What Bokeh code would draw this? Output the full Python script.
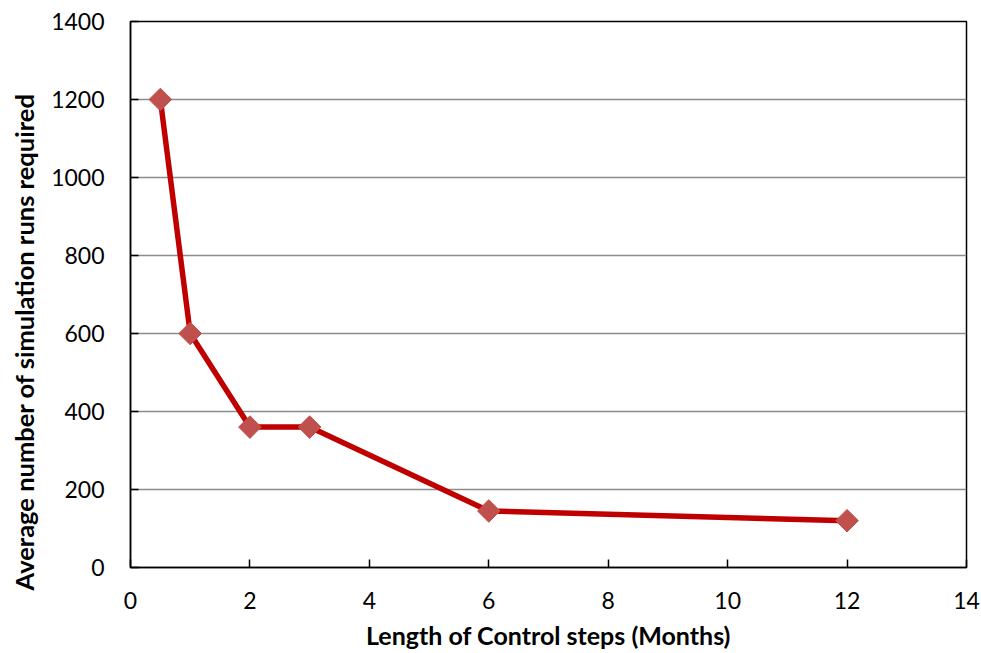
import math
from bokeh.plotting import figure
from bokeh.embed import file_html
from bokeh.resources import INLINE
from bokeh.models import FixedTicker, Range1d, Title

steps_months = [0.5, 1, 2, 3, 6, 12]
avg_runs = [1200, 600, 360, 360, 145, 120]
x_ticks = [0, 2, 4, 6, 8, 10, 12, 14]
y_ticks = [0, 200, 400, 600, 800, 1000, 1200, 1400]
x_title = "Length of Control steps (Months)"
y_title = "Average number of simulation runs required"

FONT = "Lato"

p = figure(width=981, height=653, output_backend="svg", toolbar_location=None,
           x_range=Range1d(0, 14), y_range=Range1d(0, 1400),
           min_border_left=130, min_border_right=15, min_border_top=21, min_border_bottom=86)
p.background_fill_color = "white"
p.border_fill_color = "white"
p.outline_line_color = "black"
p.outline_line_width = 1.5

p.line(steps_months, avg_runs, line_color="#C00000", line_width=5.5)
p.scatter(steps_months, avg_runs, marker="square", size=16, angle=math.pi / 4,
          fill_color="#C0504D", line_color="#C0504D")

p.xgrid.visible = False
p.ygrid.grid_line_color = "#8C8C8C"
p.ygrid.grid_line_width = 1.5

for ax in (p.xaxis[0], p.yaxis[0]):
    ax.axis_line_color = "black"
    ax.axis_line_width = 1.5
    ax.major_tick_in = 8
    ax.major_tick_out = 0
    ax.major_tick_line_color = "black"
    ax.major_tick_line_width = 1.5
    ax.minor_tick_line_color = None
    ax.major_label_text_font = FONT
    ax.major_label_text_font_size = "23px"
    ax.major_label_text_color = "black"
    ax.axis_label_text_font = FONT
    ax.axis_label_text_font_size = "25px"
    ax.axis_label_text_font_style = "bold"
    ax.axis_label_text_color = "black"

p.xaxis[0].ticker = FixedTicker(ticks=x_ticks)
p.yaxis[0].ticker = FixedTicker(ticks=y_ticks)
p.xaxis[0].axis_label = x_title
p.xaxis[0].major_label_standoff = 24
p.xaxis[0].axis_label_standoff = 8
p.yaxis[0].major_label_standoff = 26

# y title as a left-side title so it can sit lower than the frame centre, like the reference
ytitle = Title(text=y_title, align="left", offset=-23, standoff=15, vertical_align="top",
               text_font=FONT, text_font_size="25.5px", text_font_style="bold",
               text_color="black")
p.add_layout(ytitle, "left")

open("out.html", "w").write(file_html(p, INLINE))
